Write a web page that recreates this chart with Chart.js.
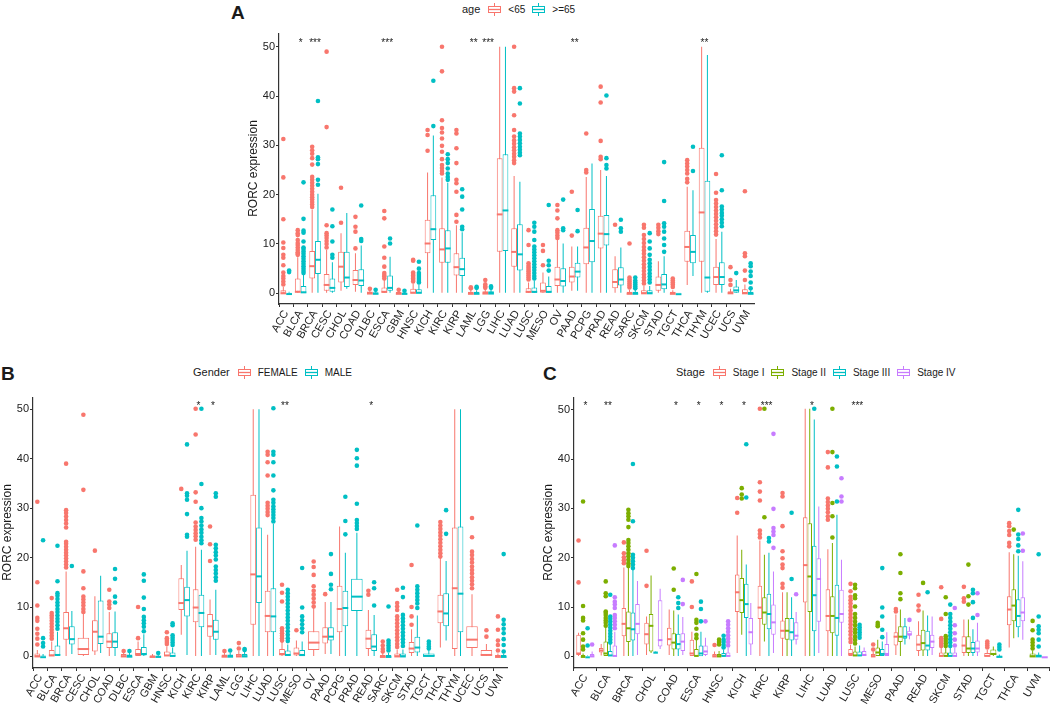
<!DOCTYPE html>
<html>
<head>
<meta charset="utf-8">
<script src="https://cdn.jsdelivr.net/npm/chart.js@4.4.0/dist/chart.umd.min.js"></script>
<style>
body { margin: 0; background: #fff; width: 1052px; height: 708px; position: relative; overflow: hidden;
       font-family: 'Liberation Sans', Arial, sans-serif; color: #1a1a1a; }
canvas { position: absolute; }
.tag { position: absolute; font-weight: bold; font-size: 19px; line-height: 19px; }
.legend { position: absolute; display: flex; align-items: center; height: 14px; white-space: nowrap; }
.legend .ttl { font-size: 11px; margin-right: 8px; }
.legend svg { margin-right: 7px; }
.legend .txt { font-size: 10px; margin-right: 7px; }
</style>
</head>
<body>
<div class="tag" style="left:231px;top:3px">A</div>
<div class="tag" style="left:1px;top:364px">B</div>
<div class="tag" style="left:543px;top:364px">C</div>
<canvas id="chartA"></canvas>
<canvas id="chartB"></canvas>
<canvas id="chartC"></canvas>
<script>
// each box is [lower whisker, Q1, median, Q3, upper whisker]; null = group not present
const cancers = ['ACC','BLCA','BRCA','CESC','CHOL','COAD','DLBC','ESCA','GBM','HNSC','KICH','KIRC','KIRP','LAML','LGG','LIHC','LUAD','LUSC','MESO','OV','PAAD','PCPG','PRAD','READ','SARC','SKCM','STAD','TGCT','THCA','THYM','UCEC','UCS','UVM'];

// ---- A: age ----
const ageLow = [[0,0.1,0.2,0.6,1.3],[0,0.3,0.5,3,7.3],[0,3,5.7,8.6,17],[0,0.5,1.9,3.9,8.8],[0.5,2.2,5.6,8.4,12.2],[0.3,1.7,2.9,4.7,8.1],[0,0.05,0.15,0.35,0.7],[0,0.1,0.5,1.2,2.8],[0,0.02,0.1,0.25,0.5],[0,0.1,0.3,0.9,2],[1,8.1,10.3,14.9,24.5],[0,6.2,9.1,13.2,23.5],[0,3.6,5.5,8.1,13.8],[0,0.05,0.1,0.3,0.7],[0,0.05,0.15,0.4,0.9],[0,8.4,16.2,27.4,50],[0,5.4,8.6,13.2,23.8],[0,0.1,0.5,1,2.2],[0,0.1,0.7,2.2,4.2],[0,1.5,3,5.4,10.8],[0.5,2.2,3.6,5.4,9.5],[0,5.9,9.5,13.3,23.6],[0,9.1,12.3,15.7,25],[0,1,2.5,4.9,7.5],[0,0.02,0.1,0.3,0.7],[0,0.02,0.2,0.6,1.5],[0,0.5,1.9,3.4,6.5],[0,0.02,0.1,0.3,0.6],[1.7,6.4,9.6,12.7,21.6],[0,6.4,16.6,29.5,50],[0,1.7,3.5,5.4,11],[0,0.05,0.2,0.4,0.9],[0,0.05,0.2,0.8,1.8]];
const ageLowOut = [[31.3,23.5,15,10.3,9.2,7.8,7.2,5.7,4.2,3.5,3,2.4,1.8],[12.8,12.2,11.8,10.8,10.2,9.8,9.3,8.8,8.3,8,7.8],[29.7,29,28.3,27.4,26.1,23.6,23,22.4,21.8,21.2,20.6,20,19.5,19,18.5,18,17.5],[49,33.7,13.8,12.2,11.7,11.2,10.6,10,9.3],[21.4,14.3],[15.5,13.5,12.5,9.1],[0.9],[16.7,15.2,9.5,7.2,5.4,4.1,3.7,3.4,3],[0.7],[6.8,6.6,4.2,3.9,3.6,3.3,3,2.7,2.4],[33.1,32.1,28.9],[50,45,35.1,33.5,32.6,31.4,29.9,28.7,27.2,26,25.4,24.8,24.3],[33.1,32.4,29.4,26.4,23,22.3,20.6,15.9,14.5],[1.2,1],[2.7,1.8,1.4,1.1],[],[50,41.6,40.9,36.1,33.1,31.8,31,30.3,29.6,29,28.3,27.7,27,26.4],[12.8,9.8,6.1,5.6,5.2,4.8,4.4,4,3.6,3.2,2.8],[9.8,8.6,5.7],[17.9,16.8,15.2,12.8,12.3,11.7,11.2],[20.6,11.7],[32.4,25,24.5],[41.9,38.7,30.9,27.7,27.2],[13.9],[10.1,3.2,2.8,2.4,2,1.6,1.2],[13.9,13.3,11.8,11,10.2,9.4,8.7,8,7.3,6.6,5.9,5.2,4.5,3.8,3.2,2.6,2],[13.9,13.3,12.6,12],[3,2.6,2.2,1.8,1.3],[27,26.3,25.7,25,24.3,23.2,22.5],[],[24.2,20.4,18.9,18.2,17.5,16.8,16.1,15.4,14.7,14,13.3,12.6,11.9],[5.3,2.7,1.7],[20.7,8.1,7.5,4.6,2.7]];
const ageHigh = [[0,0,0.05,0.15,0.3],[0,0.1,0.4,1.5,3.7],[0,3.9,7,10.6,20.2],[0,0.3,1.3,3,6.3],[0.9,1.3,3.4,8.4,16.3],[0,1.5,2.8,4.9,9.7],[0,0.02,0.1,0.2,0.4],[0,0.5,1.3,3.6,7.4],[0,0.02,0.08,0.15,0.3],[0,0.1,0.3,0.8,1.8],[0,10.8,13.2,19.9,32],[0,6.2,9.3,12.8,22.4],[0,3.5,5.1,7.2,12.4],[0,0.05,0.1,0.3,0.6],[0,0.05,0.15,0.4,0.9],[0,8.6,17,28.2,50],[0,4.6,8.1,14,22.6],[0,0.1,0.5,1.2,2.6],[0,0.1,0.5,1.5,3.4],[0,1.4,2.7,5.1,10.1],[0.5,3.2,4.6,6.2,9.5],[0,6.3,10.8,17.1,26.3],[0,9.7,12.2,15.9,23.8],[0,1.6,3,5.3,9.3],[0,0.02,0.1,0.3,0.7],[0,0.02,0.2,0.6,1.5],[0,0.8,2,3.9,7.5],[0,0,0.02,0.05,0.1],[3.5,6.1,8.6,11.8,20.9],[0,0.3,3.4,22.8,48.3],[0,1.7,3.5,6.3,12.5],[0,0.1,0.8,1.4,2.7],[0,0.02,0.1,0.3,0.6]];
const ageHighOut = [[4.6,4.3],[22.5,15.1,12.7,12.3,10.5,9.3,9,8.5,8,7.5,7,6.5,6,5.5,5,4.5,4.1],[39,27.6,27.2,26.2,23,22],[17,13.6,10.5,7.8,7.2],[],[17.8,11,10.6],[0.7],[11.1,10.1],[0.5],[6.4,5,4.1,3.7,3.3,2.9,2.5,2.2],[43.1,33.9],[28.2,27.2,26.4,25.3,24.3,23.6,23],[21.1,19.6,17,13.5,13],[1.3,1.1],[1.4,1.1],[],[41.6,38.5,32.4,31.8,31.1,30.4,29.7,29.1,28.5,28],[14.3,13.5,12.5,10.8,9.5,8.9,8.3,7.7,7.1,6.5,5.9,5.3,4.7,4.1,3.5,3],[17.9,6.6,5.7,4.6],[19,13.2,12.8],[16.9,12.6],[],[40.1,27.4,26,25.3],[14.9,13.2,12.5],[3.2,2.6,2.2,1.8,1.4,1],[12.2,10.5,9.1,7.8,6.8,6.1,5.4,4.7,4,3.4,2.8,2.2],[26.6,18.7,14.2,13.5,12.5,11.1,9.8,8.4],[],[29.7,24.8],[],[28,20.9,17.6,17,16.3,15.7,15,14.3,13.6],[4.1],[6.1,5.5,4.4,3.5,2.2,1]];
const starsA = ['','*','***','','','','','***','','','','','','**','***','','','','','','**','','','','','','','','','**','','',''];

// ---- B: gender ----
const female = [[0,0.05,0.2,0.6,1.3],[0,0.2,0.4,1.3,3],[0,3.4,5.9,9,17.2],[0,0.3,1.7,3.8,8.6],[0.3,1,5.2,7.3,12.2],[0,1.7,3.2,4.7,9],[0,0.05,0.2,0.5,0.9],[0,0.1,0.7,1.5,3],[0,0.02,0.1,0.25,0.5],[0,0.1,0.4,1,2],[4.4,9.4,11,15.8,18.5],[0,6.9,10.1,13.6,22.2],[0.3,4,6.3,8.6,11.5],[0,0.05,0.15,0.4,0.8],[0,0.05,0.2,0.5,1.1],[0,6.4,16.8,32.7,50],[0,4.9,8.4,13.3,24.6],[0,0.2,0.7,1.5,3],[0,0.2,0.8,1.8,3.2],[0,1.3,3,5.1,10],[0.5,2.6,4.2,5.9,11],[0,4.9,9.8,14.3,26.3],null,[0,1.5,3.8,5.4,9.4],[0,0.02,0.1,0.3,0.7],[0,0.05,0.2,0.6,1.4],[0,0.7,1.8,2.9,5.5],null,[1.8,6.7,9.3,12.5,20],[0,1.5,14,26.1,50],[0,1.7,3.6,6.1,12.6],[0,0.2,0.5,1.3,2.5],[0,0.02,0.1,0.3,0.6]];
const femaleOut = [[31.3,15,10.3,7.8,7.2,5.6,4.6,3.6,2.4],[11.8,8.8,8.3,7.8,7.2,6.6,6,5.4,4.8,4.2,3.6],[39,29.6,29,28.3,27.6,26.9,26.1,23.2,22.8,22.2,21.6,21,20.4,19.8,19.2,18.6,18],[48.9,33.7,17.2,13.8,12.1,11.5,10.9,10.3,9.6,9],[21.4],[13.5,11.1,10.5,9.8],[1.1],[10,3.7],[],[4.9,3.7,3.3,2.9,2.5],[33.9],[50.1,44.9,33.2,31.3,27.1,26.3,25.6,24.9,24.3,23.6],[26.3,22.7,19.3],[1.1],[2.7,1.6],[],[41.4,40.8,39.3,36.6,31.1,30.5,29.9,29.2,28.6],[14.5,12.9,11.1,5.7,5.2,4.7,4.2,3.7,3.2],[5.3],[19.2,18.1,16.5,14.2,13.3,12.5,11.7,10.9,10.1],[12.6],[],[],[13.3,12.5],[3,2.2,1.5,1],[13.5,10.8,10.1,9.4,8.1,7.4,6.7,6,5.3,4.6,3.9,3.2,2.5,1.9],[18.5,10,8.1,6.4],[],[27.2,26.5,25.8,25.1,24.4,23.7,23,22.3,21.6,20.9,20.2],[],[28,24.1,21.2,20.5,19.7,19,18.2,17.5,16.8,16,15.3,14.6,13.8],[5.3,4],[8.1,5.4,3.2,2.3,1.2]];
const male = [[0,0,0.05,0.2,0.5],[0,0.2,0.5,2.2,5],[0.5,2.4,3.7,6.1,9.2],null,[0.7,2.5,4.2,11.3,16.3],[0,1.7,3.2,4.9,9.1],[0,0.05,0.15,0.4,0.8],[0,0.2,0.7,1.9,4.5],[0,0.02,0.1,0.2,0.4],[0,0.1,0.3,0.8,1.8],[0.3,8.1,11.6,14.1,21.4],[0,5.9,9,12.5,21.6],[0.3,3.4,5.2,7.4,13.5],[0,0.05,0.15,0.4,0.8],[0,0.05,0.2,0.5,1.1],[0,10.8,16.4,26.1,50],[0,4.9,8.3,13.8,26.8],[0,0.1,0.5,1.2,2.4],[0,0.05,0.5,1.3,3],null,[0.5,3.2,4.2,5.9,11],[0,6.1,10,13.3,21],[0,9.2,12.3,15.7,25],[0,1.1,2.2,4.5,8.4],[0,0.02,0.1,0.3,0.7],[0,0.05,0.2,0.6,1.4],[0,0.8,2,4,8.3],[0,0.1,0.3,0.6,1.3],[3.2,6.1,8.9,12.8,19.3],[0,4.9,12.9,26.3,50],null,null,[0,0.02,0.1,0.3,0.6]];
const maleOut = [[23.5,3.7,2.7,2],[22.4,15.2,12.8,12.3,11.6,10.9,10.3,9.6,9,8.3,7.6,7,6.3,5.6],[18.3],[],[],[17.7,15.7,12.1,10.9],[1.1],[16.6,15.3,11.9,9.6,8,7.3,6.7,6,5.1],[0.7],[6.7,6.3,4.3,3.8,3.3,2.8,2.3],[42.9,33,32.5,31.7,28.8,24.6,24.2],[50.1,34.9,30,28,27.3,26.5,25.7,25,24.2,23.5,22.9],[33,32.3,22.6,21.9,21.1,20.4,19.6,18.2,17.5,16.8,16,15.3],[1.2],[1.5,1.3],[],[50.2,41.4,40.8,39.3,36.6,33.6,31.7,31.1,30.4,29.8,29.2,28.6,28,27.3],[13.5,12.8,12.1,11.4,10.7,10,9.3,8.6,7.9,7.2,6.5,5.8,5.1,4.4,3.7,3.1],[17.9,9.9,8.1,7.3,6.5,5.7,4.9],[],[20.7,16.7,14.5,13.6],[32.3,27.4,24.7],[41.8,40.1,38.6,30.9,27.6,27,26.4,25.8],[15,13.8,10.3],[10.1,3.2,2.7,2.2,1.7,1.2],[13.9,12,8.4,7.7,7,6.3,5.6,4.9,4.2,3.5,2.8,2.1],[26.5,14.2,13.5,12.8,12.1,11.4,10.7,9.8],[3,2.5,2,1.6],[29.6,24.8],[],[],[],[20.7,7.4,6.5,5.6,4.7,3.5,2.3,1]];
const starsB = ['','','','','','','','','','','','*','*','','','','','**','','','','','','*','','','','','','','','',''];

// ---- C: stage ----
const stageCancers = ['ACC','BLCA','BRCA','CHOL','COAD','ESCA','HNSC','KICH','KIRC','KIRP','LIHC','LUAD','LUSC','MESO','PAAD','READ','SKCM','STAD','TGCT','THCA','UVM'];
const stage1 = [[0,0.3,0.8,4.4,4.8],[0.2,0.8,1.4,1.7,2.5],[0,4.1,6.8,9.8,18],[0.3,2.4,4.7,6.8,8.1],[0.3,2.2,3.7,5.8,9.5],[0,0.1,0.8,3.4,5],[0,0.05,0.2,0.5,1],[0.7,9,13.2,16.6,24.5],[0,7.6,10.1,14.3,23.5],[0,3.6,5.4,7.3,13],[0,10.9,18.7,28.2,50.2],[0,5.1,8.4,13.6,21.7],[0,0.1,0.7,1.5,2.3],[0,0.05,0.2,0.5,1],[0.3,2.2,4.2,4.9,8.5],[0,1.1,2.6,4.4,7.1],[0,0.05,0.3,0.8,1.7],[0,0.7,2.4,4.1,7.5],[0,0.1,0.3,0.7,1.3],[1.8,6.3,9.7,12.2,21.1],null];
const stage1Out = [[23.5,15],[],[23.1,20.9,20.1,19.5,18.9],[21.4,14.3],[],[15.2,10],[2.3],[32.1,29.1],[50.2,35.3,33.4,31.6,25.5,24.8,24.1],[33.1,32.4,26.4,21.3,19.9,18.6,17.9,14.7,13.9],[],[41.4,38.3,32,31.3,30.6,29.9,29.2,28.4,27.7],[14.7,13.2,12.1,11.4,10.7,10,9.3,8.6,7.9,7.2,6.5,5.8,5.1,4.4,3.6,2.9],[2.4,1.4],[9.6,9.1],[12.5,10.3,9.3],[14,7.6,3.7,3.3,2.9,2.5,2.1],[14.1,11.8,11.1],[3,2.6,2.2,1.8],[27,26.4,25.4,24.6,23,22.3],[]];
const stage2 = [[0,0.02,0.1,0.3,0.6],[0,0.1,0.8,3,6],[0,2.9,5.9,9.1,17.9],[0.7,1,6.4,8.6,16.4],[0,1.4,3,4.7,9.3],[0,0.05,0.3,1.5,3.5],[0,0.05,0.2,0.5,1.1],[4.4,8.8,11.6,15.9,21.6],[3,6.4,9.1,12,20.6],[0,3.4,5.4,7.8,13],[0,9,16.4,27,50.2],[0,4.7,8.4,12.2,23],[0,0.1,0.4,1,2],[0,0.1,1,1.8,3.4],[0,2.9,4.2,6.1,9.5],[0,1.2,2.9,5.4,9.3],[0,0.05,0.3,0.8,1.7],[0,0.7,1.8,4.1,7.5],[0,0.3,0.7,1.4,2],[3.7,7.1,10.5,13.6,20.7],[0,0.05,0.2,0.6,1.2]];
const stage2Out = [[31.4,10.2,7.8,7.3,4.7,3.4,2,1.4],[15.2,12.8,12.2,9.1,8.8,8.4,7.8,7.3,6.8,6.2],[29.7,29,28.4,27.7,26.2,23.6,23,22.3,21.6,20.9,20.3,19.6,18.9,18.3],[],[17.8,13.5],[16.7,7.4,6.8,5.6,4.4,3.7],[3.4,2.9,2.4],[34.1,32.8,32],[50.2,28.2],[],[],[50.2,41.4,31.1,28.4,24.1],[14.5,13.8,12.4,11.8,10.1,8.6,7.8,7,6.3,5.5,4.8,4,3.3,2.6],[6.8,6.4,6.1],[20.7,16.9,12.8,11.6],[14.9],[12,8.6,4.1,3.6,3.1,2.6,2.1],[18.6,12.2,10.5],[],[25.7],[7.2,5.3,3.4,2.8,2.2,1.6]];
const stage3 = [[0,0,0.02,0.1,0.2],[0,0.1,0.4,1.1,2.5],[0,3.2,5.7,8.9,17.5],[0.9,0.9,0.95,1,1],[0,1.4,2.7,4.6,8.5],[0,0.05,0.8,2.2,5],[0,0.05,0.3,0.7,1.4],[0,7.8,10.8,14.7,18.6],[0,5.5,8.8,12.7,21],[0,3.2,5.1,7.8,12],[0,5.1,12.6,22.4,48],[0,4.2,8,14.5,28.7],[0,0.1,0.4,1,2.2],[0,0.1,0.7,1.5,3],[2.4,3.6,4.2,6.1,7.8],[0,1.2,2.4,5.2,8.3],[0,0.05,0.3,0.8,1.7],[0,0.7,1.8,2.9,5.5],[0,0.02,0.1,0.2,0.4],[3.9,5.9,8.4,11.6,20.4],[0,0.05,0.2,0.4,0.8]];
const stage3Out = [[5.7,2.2],[12.5,8.1,7.6,7,6.4,5.8,5.2,4.6,4,3.4,2.8],[39,27.4,20.6,20,19.3,18.6,17.9],[],[12,10.8,9.8],[11.1,9.6,7.1],[4.2,3.4,2.9,2.3,1.8],[43,32.2],[24,23.3],[29.1,15.7],[50.2],[40.5,38.5,31.4],[6.4,5.9,5.4,4.9,4.4,3.8],[17.9,9.9,8.1,5.4,3.9],[],[13],[10.5,8.6,7.8,7,6.3,5.6,4.9,4.2,3.5,2.8,2.1],[13.5,12.8,11,7.8],[2.4,1.9,1.4],[29.7,24.7,23.8,22.5,21.3],[20.7,8.1,6.1,5.4,4.7,3.4,2]];
const stage4 = [[0,0.05,0.2,0.5,1],[0,0.1,0.3,2.2,5],[0.3,4.5,6.8,10.6,15.3],[1.5,2,3.5,11.4,13.7],[0.3,1.1,3.2,4.7,8],[0,0.3,1.2,2.2,3.8],[0,0.05,0.3,0.8,1.7],[0.3,2.4,5.1,7.8,10.8],[0.7,4.4,7.1,10.5,17.2],[2.4,3.4,4.4,6.9,9],[0.7,7,15.9,19.9,30.4],[0,6.8,8.8,13.5,19.6],[0,0.1,0.5,1.1,1.8],[0,0.1,0.7,2.5,4.9],[3.5,4.2,4.7,5.2,6],[0.3,1.7,3.2,4.4,8.1],[0,0.05,0.3,0.8,1.7],[0,0.8,1.8,3.2,6.8],null,[3.4,7.1,9.1,12,19.3],[0,0,0.02,0.05,0.1]];
const stage4Out = [[2.4],[22.5,12,11.1,10.5,9.8,8.4,7.8,7.1,6.4,5.7],[],[],[15.5,10.6],[7.1],[7.1,6.4,5.7,5,4.3,3.6,2.9,2.2],[],[45.1,29.9,26,25.3,24.6,22],[12.6],[],[36.1,32.4,31.4],[],[],[7.4],[],[9.8,6.3,4.7,3.4,2.2],[12.8,8.4],[],[24.9,21.4],[]];
const starsC = ['*','**','','','*','*','*','*','***','','*','','***','','','','','','','',''];

const yTicks = [0, 10, 20, 30, 40, 50];
const RED = '#F8766D', GREEN = '#7CAE00', TEAL = '#00BFC4', PURPLE = '#C77CFF';
const FONT = "'Liberation Sans', Arial, sans-serif";
const GROUP_W = 0.8;   // share of each category used by the dodged boxes
const PLOT_H = 271;

// significance stars above each cancer type
const starPlugin = {
    id: 'stars',
    afterDatasetsDraw(chart, args, opts) {
        const { ctx, scales: { x, y } } = chart;
        ctx.save();
        ctx.font = '10px ' + FONT;
        ctx.fillStyle = '#222';
        ctx.textAlign = 'center';
        ctx.textBaseline = 'middle';
        opts.labels.forEach((s, i) => {
            if (s) ctx.fillText(s, x.getPixelForValue(i), y.getPixelForValue(opts.at));
        });
        ctx.restore();
    }
};

const addLegend = (x, cy, title, groups) => {
    const box = document.createElement('div');
    box.className = 'legend';
    box.style.left = x + 'px';
    box.style.top = (cy - 7) + 'px';
    const t = document.createElement('span');
    t.className = 'ttl';
    t.textContent = title;
    box.appendChild(t);
    groups.forEach(g => {
        const icon = document.createElementNS('http://www.w3.org/2000/svg', 'svg');
        icon.setAttribute('width', '13');
        icon.setAttribute('height', '13');
        icon.innerHTML = `<line x1="6.5" y1="0" x2="6.5" y2="13" stroke="${g.color}"/>` +
            `<rect x="0.5" y="3.5" width="12" height="6" fill="#fff" stroke="${g.color}"/>` +
            `<line x1="0.5" y1="6.5" x2="12.5" y2="6.5" stroke="${g.color}" stroke-width="1.3"/>`;
        box.appendChild(icon);
        const s = document.createElement('span');
        s.className = 'txt';
        s.textContent = g.label;
        box.appendChild(s);
    });
    document.body.appendChild(box);
};

const makePanel = (id, dims, cats, groups, stars, yMin, yMax) => {
    const canvas = document.getElementById(id);
    canvas.width = dims.width;
    canvas.height = dims.height;
    canvas.style.left = dims.left + 'px';
    canvas.style.top = dims.top + 'px';

    const datasets = [];
    groups.forEach((g, gi) => {
        const stack = 'g' + gi;
        datasets.push({ type: 'bar', stack, order: 0, data: g.stats.map(s => s ? [s[2], s[2]] : null),
            backgroundColor: g.color, borderWidth: 0, minBarLength: 2 });
        datasets.push({ type: 'bar', stack, order: 1, data: g.stats.map(s => s ? [s[1], s[3]] : null),
            backgroundColor: '#fff', borderColor: g.color, borderWidth: 1, borderSkipped: false });
        datasets.push({ type: 'bar', stack, order: 2, data: g.stats.map(s => s ? [s[0], s[4]] : null),
            backgroundColor: g.color, borderWidth: 0, maxBarThickness: 1 });

        // outliers sit at the centre of their dodged box (fractional category index)
        const pts = [];
        g.out.forEach((vals, i) => {
            if (!g.stats[i]) return;
            const present = groups.filter(o => o.stats[i]);
            const k = present.indexOf(g);
            const off = -GROUP_W / 2 + GROUP_W / present.length * (k + 0.5);
            vals.forEach(v => pts.push({ x: i + off, y: v }));
        });
        datasets.push({ type: 'scatter', parsing: false, order: -1, data: pts,
            pointRadius: 2.3, pointBackgroundColor: g.color, pointBorderWidth: 0 });
    });

    const tickGrid = { display: true, drawOnChartArea: false, drawTicks: true, tickLength: 3, color: '#333', lineWidth: 1 };
    new Chart(canvas, {
        type: 'bar',
        data: { labels: cats, datasets },
        options: {
            responsive: false,
            animation: false,
            events: [],
            layout: { padding: 0, autoPadding: false },
            datasets: { bar: { categoryPercentage: GROUP_W, barPercentage: 1, skipNull: true } },
            plugins: {
                legend: { display: false },
                tooltip: { enabled: false },
                stars: { labels: stars, at: 50.7 }
            },
            scales: {
                x: {
                    type: 'category', stacked: true, offset: true,
                    grid: tickGrid,
                    border: { display: true, color: '#333', width: 1.2 },
                    ticks: { autoSkip: false, minRotation: 60, maxRotation: 60, padding: 1, color: '#222', font: { size: 11, family: FONT } },
                    afterFit: s => { s.height = dims.height - PLOT_H; s.paddingLeft = 0; s.paddingRight = 0; }
                },
                y: {
                    type: 'linear', stacked: false, min: yMin, max: yMax,
                    grid: tickGrid,
                    border: { display: true, color: '#333', width: 1.2 },
                    ticks: { padding: 1, color: '#222', font: { size: 11, family: FONT } },
                    title: { display: true, text: 'RORC expression', color: '#1a1a1a', padding: { top: 0, bottom: 0 }, font: { size: 12, family: FONT } },
                    afterBuildTicks: s => { s.ticks = yTicks.map(v => ({ value: v })); },
                    afterFit: s => { s.width = 33; s.paddingTop = 0; s.paddingBottom = 0; }
                }
            }
        },
        plugins: [starPlugin]
    });
};

const groupsA = [
    { label: '<65', color: RED, stats: ageLow, out: ageLowOut },
    { label: '>=65', color: TEAL, stats: ageHigh, out: ageHighOut }
];
const groupsB = [
    { label: 'FEMALE', color: RED, stats: female, out: femaleOut },
    { label: 'MALE', color: TEAL, stats: male, out: maleOut }
];
const groupsC = [
    { label: 'Stage I', color: RED, stats: stage1, out: stage1Out },
    { label: 'Stage II', color: GREEN, stats: stage2, out: stage2Out },
    { label: 'Stage III', color: TEAL, stats: stage3, out: stage3Out },
    { label: 'Stage IV', color: PURPLE, stats: stage4, out: stage4Out }
];

makePanel('chartA', { left: 246, top: 33, width: 509, height: 315 }, cancers, groupsA, starsA, -2.17, 52.78);
makePanel('chartB', { left: 0, top: 397, width: 508, height: 311 }, cancers, groupsB, starsB, -2.34, 52.49);
makePanel('chartC', { left: 541, top: 397, width: 509, height: 311 }, stageCancers, groupsC, starsC, -2.35, 52.57);

addLegend(462, 9, 'age', groupsA);
addLegend(193, 372, 'Gender', groupsB);
addLegend(676, 372, 'Stage', groupsC);
</script>
</body>
</html>
